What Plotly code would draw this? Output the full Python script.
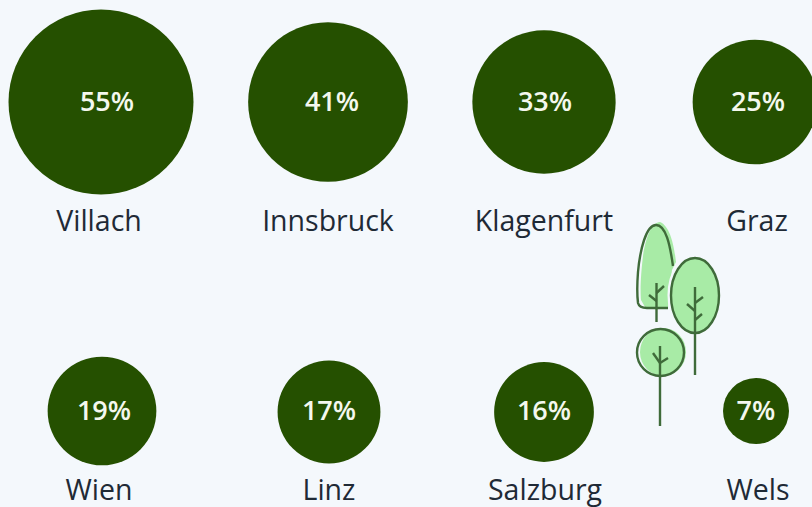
import plotly.graph_objects as go

cities = ["Villach", "Innsbruck", "Klagenfurt", "Graz", "Wien", "Linz", "Salzburg", "Wels"]
shares = [55, 41, 33, 25, 19, 17, 16, 7]

# layout positions (pixel-like axis units)
bubble_x = [101, 328, 544, 755, 102, 329, 544, 756]
bubble_y = [102, 102, 102, 102, 411, 412, 412, 411]
value_x = [107, 332, 545, 758, 104, 329, 544, 756]
value_y = [104, 104, 104, 104, 413, 413, 413, 413]
name_x = [99, 328, 544, 757, 99, 329, 545, 758]
name_y = [224, 224, 224, 224, 493, 493, 493, 493]

BG = "#f4f8fc"
GREEN = "#255000"
LINE = "#3f6b3a"
LEAF = "#a8eba6"

fig = go.Figure()
fig.add_trace(go.Scatter(
    x=bubble_x, y=bubble_y, mode="markers", hoverinfo="skip",
    marker=dict(size=shares, sizemode="area", sizeref=2 * 55 / 185**2, color=GREEN, line=dict(width=0), opacity=1),
))
fig.add_trace(go.Scatter(
    x=value_x, y=value_y, mode="text", text=[f"{v}%" for v in shares], hoverinfo="skip",
    textposition="middle center",
    textfont=dict(family="Open Sans", size=27, color="#f4f8ee", weight=600),
))
fig.add_trace(go.Scatter(
    x=name_x, y=name_y, mode="text", text=cities, hoverinfo="skip",
    textposition="middle center",
    textfont=dict(family="Open Sans", size=28.5, color="#1f2a36"),
))


def line(path, color=LINE, width=2.4):
    return dict(type="path", path=path, line=dict(color=color, width=width), layer="above")


def ellipse(x0, y0, x1, y1, fill="rgba(0,0,0,0)", color=LINE, width=2.4):
    return dict(type="circle", x0=x0, y0=y0, x1=x1, y1=y1, fillcolor=fill,
                line=dict(color=color, width=width), layer="above")


shapes = [
    # tree 1
    dict(type="path", path="M 660 222 C 652 222 646 236 643 256 C 641 272 640 290 641 300 L 645 307 L 668 307 L 672 270 L 676 262 C 674 245 670 226 660 222 Z",
         fillcolor=LEAF, line=dict(width=0), layer="above"),
    line("M 673 266 C 670 245 666 225 656 225 C 646 225 640 250 638 272 C 637 285 637 295 638 303 C 639 307 642 308 647 308 L 668 308"),
    line("M 656.5 283 L 656.5 322"), line("M 656.5 301 L 649 295"), line("M 656.5 293 L 664 286"),
    # tree 2
    ellipse(669, 255, 721, 335, fill=BG, color=BG, width=3),
    ellipse(671, 257, 719, 332, fill=LEAF, color=LEAF, width=0),
    ellipse(671, 258, 719, 333),
    line("M 695 287 L 695 375"), line("M 695 311 L 687 304"), line("M 695 303 L 703 297"), line("M 695 320 L 702 314"),
    # tree 3
    ellipse(640, 328, 686, 376, fill=LEAF, color=LEAF, width=0),
    ellipse(637, 329, 684, 376),
    line("M 660 346 L 660 426"), line("M 660 363 L 653 353"), line("M 660 363 L 668 358"),
]

fig.update_layout(
    width=812, height=507, margin=dict(l=0, r=0, t=0, b=0),
    paper_bgcolor=BG, plot_bgcolor=BG, showlegend=False, shapes=shapes,
    xaxis=dict(range=[0, 812], visible=False, fixedrange=True),
    yaxis=dict(range=[507, 0], visible=False, fixedrange=True),
)
fig.write_html("out.html", config=dict(displayModeBar=False),
               post_script="document.body.style.margin='0';document.body.style.overflow='hidden';")
